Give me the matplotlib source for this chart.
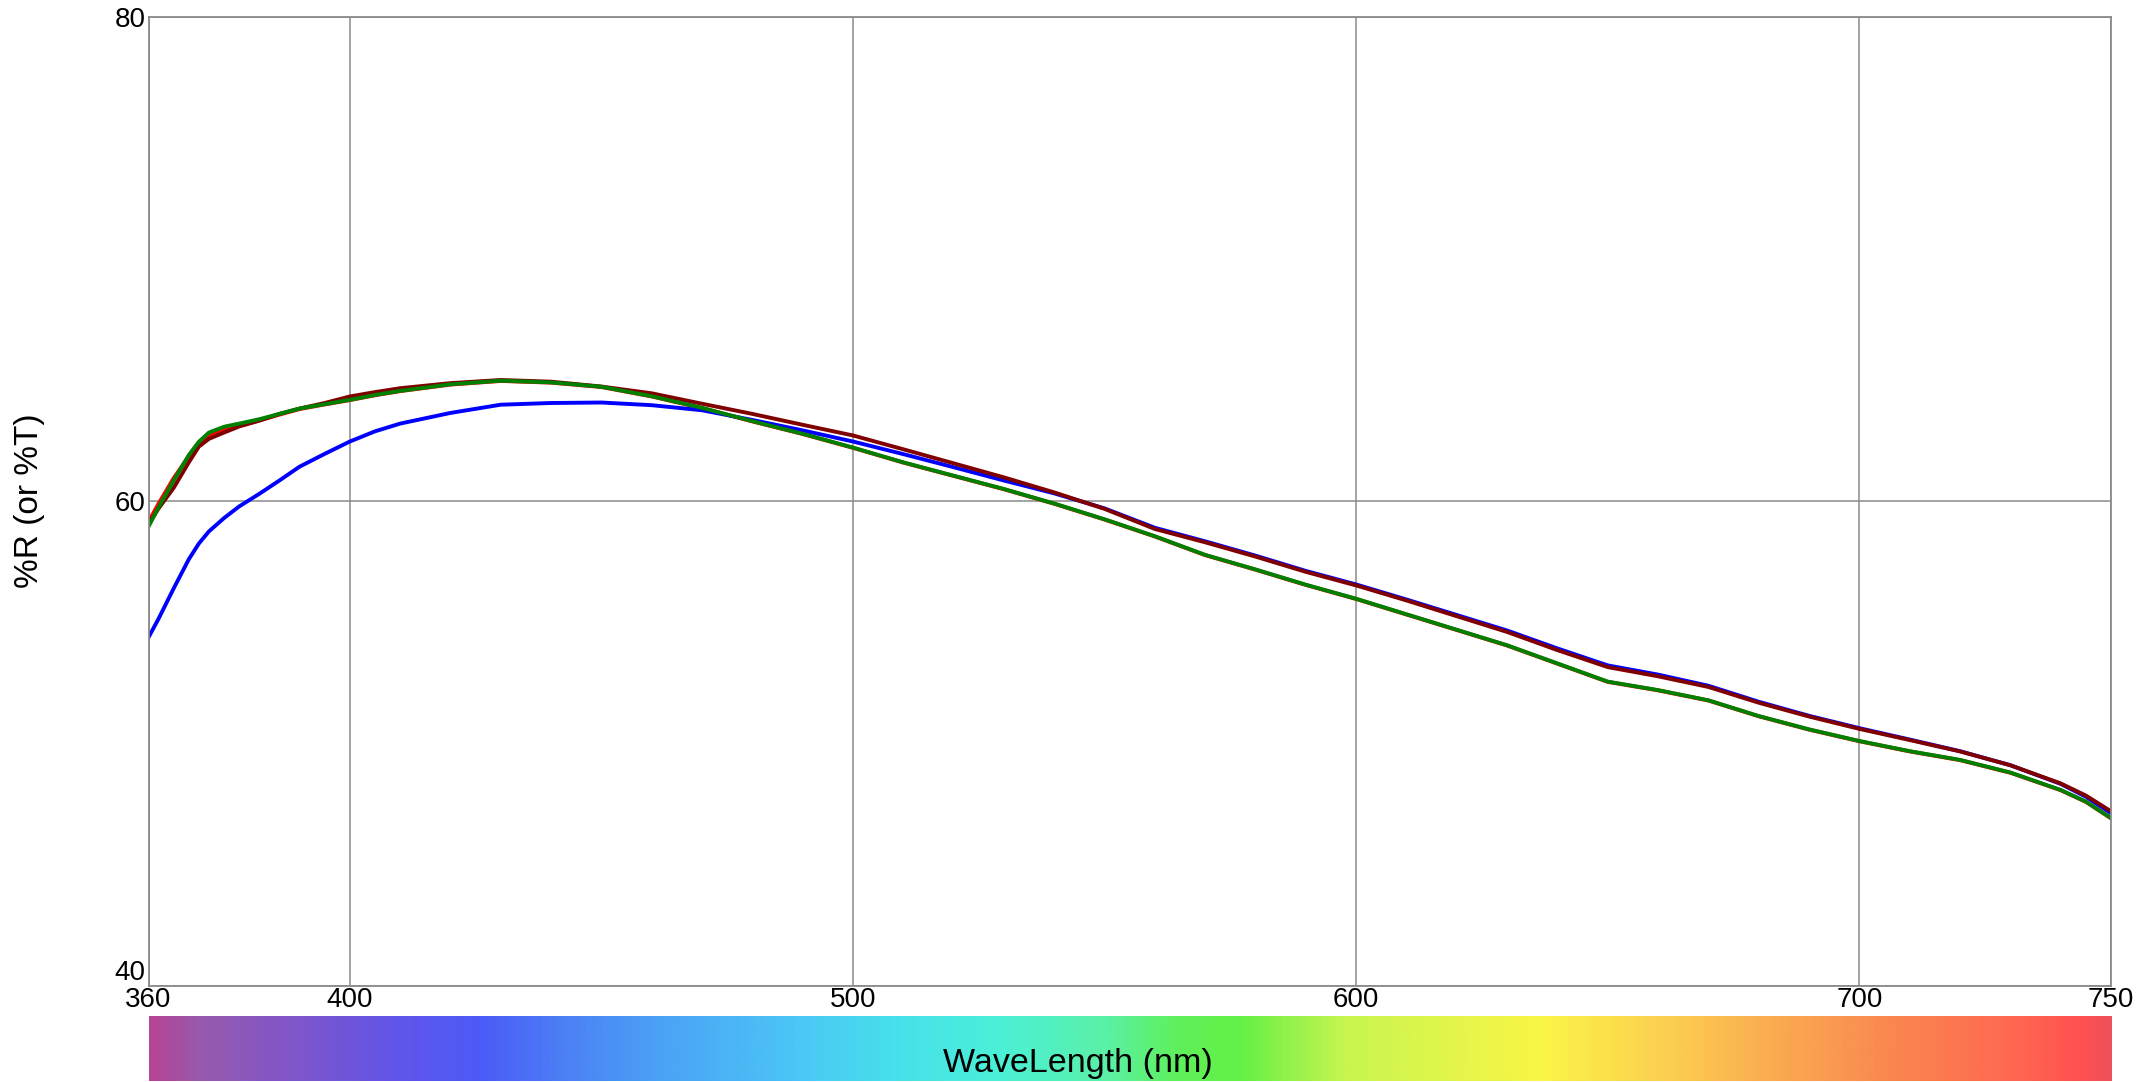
import matplotlib
matplotlib.use("Agg")
import matplotlib.pyplot as plt
import numpy as np
from matplotlib.colors import LinearSegmentedColormap

plt.rcParams['font.family'] = ['Liberation Sans', 'DejaVu Sans']

# wavelength grid (nm)
wavelength = [360, 362, 365, 368, 370, 372, 375, 378, 382, 386, 390, 395, 400, 405, 410,
              420, 430, 440, 450, 460, 470, 480, 490, 500, 510, 520, 530, 540, 550, 560,
              570, 580, 590, 600, 610, 620, 630, 640, 650, 660, 670, 680, 690, 700, 710,
              720, 730, 740, 745, 750]

red_curve = [59.15, 59.9, 60.95, 61.85, 62.35, 62.72, 62.98, 63.12, 63.33, 63.57, 63.8, 63.99,
             64.17, 64.37, 64.54, 64.81, 64.96, 64.89, 64.71, 64.32, 63.84, 63.29, 62.77,
             62.2, 61.59, 61.04, 60.49, 59.89, 59.24, 58.54, 57.77, 57.17, 56.54, 55.96,
             55.32, 54.68, 54.04, 53.29, 52.54, 52.19, 51.77, 51.12, 50.57, 50.09, 49.67,
             49.31, 48.79, 48.07, 47.59, 46.91]

blue_curve = [54.38, 55.15, 56.4, 57.6, 58.25, 58.75, 59.3, 59.78, 60.3, 60.85, 61.42, 61.95,
              62.46, 62.88, 63.2, 63.64, 63.98, 64.05, 64.07, 63.96, 63.75, 63.35, 62.92,
              62.46, 61.94, 61.4, 60.85, 60.32, 59.7, 58.9, 58.34, 57.75, 57.12, 56.56,
              55.94, 55.3, 54.66, 53.92, 53.22, 52.84, 52.38, 51.72, 51.14, 50.63, 50.16,
              49.68, 49.1, 48.33, 47.8, 47.12]

maroon_curve = [59.05, 59.7, 60.55, 61.6, 62.25, 62.57, 62.83, 63.08, 63.32, 63.6, 63.82,
                64.05, 64.32, 64.5, 64.66, 64.87, 65.0, 64.93, 64.73, 64.45, 64.02, 63.6,
                63.15, 62.71, 62.14, 61.56, 60.98, 60.36, 59.68, 58.85, 58.3, 57.71, 57.08,
                56.52, 55.9, 55.25, 54.6, 53.85, 53.15, 52.77, 52.33, 51.68, 51.11, 50.6,
                50.14, 49.67, 49.1, 48.35, 47.85, 47.2]

green_curve = [58.95, 59.75, 60.85, 61.9, 62.45, 62.83, 63.07, 63.2, 63.38, 63.6, 63.82, 64.0,
               64.18, 64.38, 64.55, 64.82, 64.97, 64.9, 64.72, 64.33, 63.85, 63.3, 62.78,
               62.21, 61.6, 61.05, 60.5, 59.9, 59.25, 58.55, 57.78, 57.18, 56.55, 55.97,
               55.33, 54.69, 54.05, 53.3, 52.55, 52.2, 51.78, 51.13, 50.58, 50.1, 49.68,
               49.32, 48.8, 48.08, 47.6, 46.92]

x_ticks = [360, 400, 500, 600, 700, 750]
y_ticks = [40, 60, 80]

# visible spectrum strip under the axis
spec_nm = [360, 370, 390, 410, 425, 443, 463, 490, 509, 529, 549, 565, 577, 598, 637,
           660, 684, 707, 731, 745, 750]
spec_rgb = [(180, 70, 150), (150, 90, 175), (125, 85, 205), (95, 85, 235), (75, 90, 248),
            (75, 130, 245), (75, 165, 245), (75, 200, 245), (70, 225, 235), (75, 240, 215),
            (90, 240, 170), (95, 240, 90), (100, 240, 70), (200, 245, 80), (250, 245, 70),
            (252, 210, 80), (250, 170, 80), (250, 135, 80), (255, 105, 80), (255, 80, 80),
            (240, 80, 90)]

grid_col = '#8a8a8a'

fig = plt.figure(figsize=(21.56, 10.82), dpi=100)
ax = fig.add_axes([0.0689, 0.0890, 0.9102, 0.8957])

ax.plot(wavelength, red_curve, color='#ff0000', lw=2.8)
ax.plot(wavelength, blue_curve, color='#0000ff', lw=2.8)
ax.plot(wavelength, maroon_curve, color='#800000', lw=2.8)
ax.plot(wavelength, green_curve, color='#008000', lw=2.8)

ax.set_xlim(360, 750)
ax.set_ylim(40, 80)
ax.set_xticks(x_ticks)
ax.set_yticks(y_ticks)
ax.grid(True, color=grid_col, lw=1.1)
ax.set_axisbelow(True)
for s in ax.spines.values():
    s.set_color(grid_col)
    s.set_linewidth(1.3)
ax.tick_params(length=0, labelsize=20, pad=2)
ax.tick_params(axis='x', pad=1)
ylabels = ax.get_yticklabels()
ylabels[0].set_verticalalignment('bottom')

fig.text(0.0135, 0.537, '%R (or %T)', rotation=90, ha='center', va='center', fontsize=24)

# spectrum bar
cax = fig.add_axes([0.0689, 0.0009, 0.9102, 0.0601])
pos = [(w - 360) / 390 for w in spec_nm]
cols = [tuple(c / 255 for c in rgb) for rgb in spec_rgb]
cmap = LinearSegmentedColormap.from_list('spectrum', list(zip(pos, cols)))
grad = np.linspace(0, 1, 800).reshape(1, -1)
cax.imshow(grad, aspect='auto', cmap=cmap, extent=[360, 750, 0, 1])
cax.set_axis_off()

fig.text(0.5, 0.0092, 'WaveLength (nm)', ha='center', va='baseline', fontsize=24.5)

fig.savefig('out.png', dpi=100)
